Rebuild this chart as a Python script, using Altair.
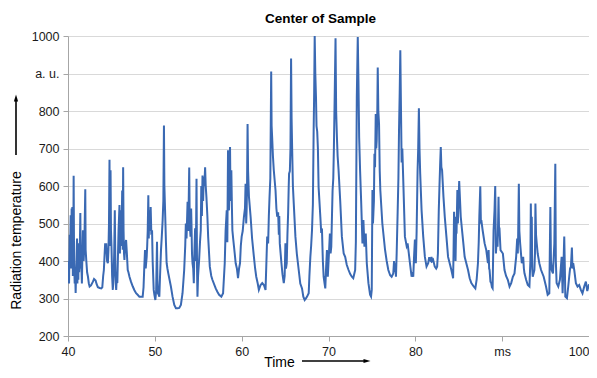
import altair as alt
import pandas as pd

# Time (ms) / radiation temperature (a.u.) readings, split by time span
seg_40_51 = [(40.00,367),(40.06,400),(40.12,340),(40.20,470),(40.25,430),(40.31,522),(40.36,380),(40.42,540),(40.46,400),(40.50,544),(40.56,360),(40.61,420),(40.65,627),(40.70,400),(40.77,340),(40.82,370),(40.88,315),(40.95,380),(41.04,460),(41.08,340),(41.15,430),(41.19,350),(41.23,447),(41.28,370),(41.34,400),(41.42,528),(41.47,380),(41.53,394),(41.60,340),(41.66,420),(41.72,482),(41.80,400),(41.88,440),(41.99,591),(42.03,430),(42.11,400),(42.20,370),(42.30,358),(42.40,340),(42.49,332),(42.65,335),(42.87,345),(43.00,352),(43.18,348),(43.30,338),(43.44,330),(43.65,328),(43.83,327),(43.95,330),(44.05,360),(44.13,376),(44.20,410),(44.28,447),(44.35,430),(44.40,447),(44.50,400),(44.59,394),(44.66,430),(44.72,500),(44.78,670),(44.82,440),(44.86,600),(44.90,642),(44.95,480),(45.01,438),(45.08,360),(45.16,323),(45.25,360),(45.32,420),(45.39,535),(45.45,400),(45.50,340),(45.55,323),(45.62,360),(45.68,341),(45.74,400),(45.82,480),(45.93,549),(45.98,420),(46.02,520),(46.08,535),(46.15,440),(46.24,588),(46.30,430),(46.35,650),(46.40,480),(46.45,420),(46.50,403),(46.58,440),(46.69,456),(46.78,420),(46.88,376),(46.96,370),(47.08,358),(47.25,345),(47.46,332),(47.65,322),(47.84,314),(48.02,310),(48.22,305),(48.40,305),(48.60,305),(48.70,330),(48.78,380),(48.87,429),(48.95,380),(49.06,411),(49.12,440),(49.18,480),(49.25,575),(49.30,460),(49.37,535),(49.45,480),(49.52,544),(49.60,470),(49.68,482),(49.75,400),(49.87,323),(49.95,310),(50.06,296),(50.15,320),(50.25,451),(50.30,350),(50.36,314),(50.45,310),(50.52,305),(50.60,360),(50.71,429),(50.80,465),(50.90,509),(50.98,560),(51.05,761),(51.10,600),(51.20,518),(51.28,450),(51.36,394),(51.45,380)]

seg_51_63 = [(51.55,367),(51.85,332),(52.04,305),(52.24,283),(52.43,274),(52.62,274),(52.81,275),(53.00,283),(53.19,314),(53.38,376),(53.50,440),(53.57,500),(53.65,460),(53.77,558),(53.85,480),(53.96,649),(54.02,500),(54.11,465),(54.18,540),(54.22,500),(54.28,420),(54.34,394),(54.42,380),(54.49,341),(54.55,420),(54.64,487),(54.72,400),(54.80,619),(54.86,380),(54.91,305),(54.98,360),(55.10,403),(55.20,450),(55.29,482),(55.35,600),(55.42,520),(55.49,628),(55.56,560),(55.64,624),(55.70,600),(55.79,650),(55.86,600),(55.94,571),(56.05,520),(56.14,465),(56.33,385),(56.50,360),(56.63,350),(57.01,327),(57.20,318),(57.40,310),(57.66,305),(57.86,314),(58.05,394),(58.15,480),(58.28,535),(58.35,450),(58.43,695),(58.48,560),(58.54,535),(58.60,600),(58.66,704),(58.72,560),(58.81,642),(58.88,540),(58.93,482),(59.02,460),(59.12,438),(59.20,420),(59.31,394),(59.45,380),(59.58,354),(59.70,380),(59.81,394),(59.90,440),(60.00,465),(60.12,480),(60.26,518),(60.38,540),(60.45,606),(60.52,500),(60.57,535),(60.62,600),(60.68,765),(60.74,640),(60.84,571),(61.03,518),(61.20,460),(61.41,411),(61.55,380),(61.68,358),(61.85,340),(61.98,323),(62.18,336),(62.37,341),(62.56,336),(62.75,323)]

seg_63_74 = [(62.94,465),(63.05,447),(63.13,520),(63.21,571),(63.30,620),(63.40,905),(63.45,760),(63.51,730),(63.60,680),(63.70,642),(63.90,588),(64.00,540),(64.09,518),(64.20,530),(64.28,470),(64.33,520),(64.39,447),(64.58,394),(64.70,365),(64.85,341),(64.95,360),(65.04,447),(65.10,380),(65.19,394),(65.27,470),(65.35,527),(65.42,600),(65.46,633),(65.55,640),(65.62,700),(65.69,940),(65.75,780),(65.81,704),(65.90,600),(66.00,553),(66.19,465),(66.35,420),(66.57,376),(66.75,340),(66.95,327),(67.10,305),(67.26,296),(67.40,300),(67.53,305),(67.72,314),(67.80,360),(67.91,411),(68.00,440),(68.10,482),(68.20,550),(68.29,748),(68.35,850),(68.41,1000),(68.48,900),(68.56,836),(68.62,760),(68.70,745),(68.78,700),(68.86,597),(69.06,518),(69.15,480),(69.25,482),(69.35,400),(69.44,358),(69.55,340),(69.63,327),(69.72,380),(69.82,429),(69.92,358),(70.01,400),(70.16,473),(70.24,420),(70.32,438),(70.40,520),(70.47,588),(70.55,620),(70.62,700),(70.70,820),(70.81,994),(70.88,800),(70.97,730),(71.05,680),(71.16,642),(71.35,560),(71.54,465),(71.75,420),(71.92,411),(72.10,390),(72.31,376),(72.50,365),(72.69,358),(72.85,354),(73.07,376),(73.15,450),(73.26,836),(73.37,997),(73.45,880),(73.53,730),(73.64,640),(73.76,560),(73.91,447),(74.02,509),(74.14,438),(74.29,473),(74.41,394)]

seg_74_85 = [(74.60,341),(74.79,310),(74.90,305),(74.98,323),(75.06,589),(75.12,500),(75.17,527),(75.23,560),(75.29,686),(75.36,650),(75.44,792),(75.50,700),(75.55,721),(75.62,800),(75.67,916),(75.74,800),(75.82,765),(75.90,640),(75.97,588),(76.20,500),(76.51,430),(76.70,400),(76.89,376),(77.10,362),(77.27,358),(77.46,367),(77.55,400),(77.60,370),(77.66,394),(77.72,380),(77.77,358),(77.85,420),(77.96,527),(78.05,620),(78.12,748),(78.20,850),(78.27,962),(78.35,800),(78.42,663),(78.50,700),(78.61,615),(78.80,465),(79.00,440),(79.11,447),(79.25,420),(79.38,394),(79.57,358),(79.68,365),(79.76,358),(79.85,410),(79.95,457),(80.00,420),(80.06,394),(80.15,480),(80.26,642),(80.33,700),(80.41,807),(80.48,700),(80.56,633),(80.72,535),(80.91,465),(81.10,411),(81.29,385),(81.48,394),(81.60,410),(81.67,403),(81.80,400),(81.86,411),(81.95,400),(82.05,403),(82.24,385),(82.40,380),(82.51,385),(82.60,420),(82.70,535),(82.78,600),(82.86,659),(82.93,704),(83.00,650),(83.08,642),(83.24,571),(83.39,518),(83.58,465),(83.77,411),(84.00,390),(84.15,376),(84.30,360),(84.35,354),(84.40,420),(84.46,531),(84.52,420),(84.58,518),(84.63,400),(84.69,482),(84.75,480),(84.84,589),(84.90,500),(85.05,613)]

seg_85_100 = [(85.23,518),(85.38,482),(85.53,447),(85.68,411),(85.87,394),(86.07,376),(86.26,354),(86.45,341),(86.72,332),(86.91,327),(87.06,350),(87.21,394),(87.30,450),(87.37,518),(87.48,599),(87.55,500),(87.60,509),(87.75,482),(87.98,447),(88.17,429),(88.36,394),(88.44,429),(88.50,380),(88.55,376),(88.65,345),(88.74,341),(88.82,330),(88.90,327),(89.01,482),(89.12,535),(89.20,600),(89.28,420),(89.35,447),(89.42,460),(89.47,438),(89.53,500),(89.58,571),(89.64,480),(89.70,482),(89.81,429),(90.08,420),(90.27,376),(90.45,360),(90.65,350),(90.85,332),(91.04,341),(91.23,358),(91.42,367),(91.61,411),(91.73,460),(91.80,420),(91.84,465),(91.92,606),(91.98,480),(92.07,447),(92.26,394),(92.42,411),(92.50,380),(92.57,367),(92.76,350),(92.95,336),(93.14,332),(93.25,400),(93.30,553),(93.36,420),(93.41,518),(93.46,380),(93.52,358),(93.65,370),(93.71,376),(93.78,420),(93.83,553),(93.90,470),(93.98,447),(94.09,420),(94.28,394),(94.48,376),(94.78,358),(95.05,332),(95.24,310),(95.43,314),(95.55,544),(95.62,400),(95.70,376),(95.85,367),(96.01,447),(96.12,659),(96.18,400),(96.27,341),(96.46,332),(96.65,350),(96.85,411),(96.96,314),(97.05,380),(97.15,465),(97.22,380),(97.27,305),(97.46,301),(97.60,330),(97.72,358),(97.82,380),(97.92,385),(98.03,436),(98.10,380),(98.18,394),(98.30,376),(98.49,341),(98.68,332),(98.87,336),(99.06,323),(99.25,314),(99.45,332),(99.64,345),(99.80,320),(100.00,338)]

x_ticks = [40, 50, 60, 70, 80, 90, 100]
y_ticks = [200, 300, 400, 500, 600, 700, 800, 900, 1000]

FONT = "Liberation Sans"
LINE_BLUE = "#3A69B3"
GRID = "#d9d9d9"
AXIS_GRAY = "#a6a6a6"

rows = seg_40_51 + seg_51_63 + seg_63_74 + seg_74_85 + seg_85_100
df = pd.DataFrame(rows, columns=["time", "value"])

line = alt.Chart(df).mark_line(color=LINE_BLUE, strokeWidth=2, clip=True).encode(
    x=alt.X("time:Q",
            scale=alt.Scale(domain=[40, 100], nice=False, zero=False),
            axis=alt.Axis(values=x_ticks, labelExpr="datum.value == 90 ? 'ms' : datum.label",
                          grid=False, domainColor=AXIS_GRAY, tickColor=AXIS_GRAY, tickSize=5,
                          labelFlush=False, labelOverlap=False,
                          labelAlign={"condition": {"test": "datum.value == 100", "value": "right"},
                                      "value": "center"},
                          labelFont=FONT, labelFontSize=12.5, labelColor="#1a1a1a", labelPadding=4,
                          title="Time", titleFont=FONT, titleFontSize=14, titleFontWeight="normal",
                          titleColor="#000000", titleX=211, titleY=30, titleBaseline="alphabetic",
                          titleAlign="center")),
    y=alt.Y("value:Q",
            scale=alt.Scale(domain=[200, 1000], nice=False, zero=False),
            axis=alt.Axis(values=y_ticks, format="d",
                          labelExpr="datum.value == 900 ? 'a. u.' : datum.label",
                          labelFlush=False, labelOverlap=False,
                          grid=True, gridColor=GRID, gridWidth=1,
                          domainColor=AXIS_GRAY, tickColor=AXIS_GRAY, tickSize=5,
                          labelFont=FONT, labelFontSize=12.5, labelColor="#1a1a1a", labelPadding=4,
                          title="Radiation temperature", titleFont=FONT, titleFontSize=14,
                          titleFontWeight="normal", titleColor="#000000",
                          titleX=-52, titleY=204, titleAngle=270, titleBaseline="middle",
                          titleAlign="center")),
)

one = pd.DataFrame({"k": [0]})
y_shaft = alt.Chart(one).mark_rule(color="black", strokeWidth=1.6).encode(
    x=alt.value(-52), y=alt.value(62), y2=alt.value(119))
y_head = alt.Chart(one).mark_point(shape="M0,-1L0.6,1L-0.6,1Z", filled=True, color="black",
                                    opacity=1, size=49, strokeWidth=0).encode(
    x=alt.value(-52), y=alt.value(62))
x_shaft = alt.Chart(one).mark_rule(color="black", strokeWidth=1.6).encode(
    x=alt.value(234), x2=alt.value(299), y=alt.value(325))
x_head = alt.Chart(one).mark_point(shape="M1,0L-1,-0.6L-1,0.6Z", filled=True, color="black",
                                    opacity=1, size=49, strokeWidth=0).encode(
    x=alt.value(299), y=alt.value(325))

chart = alt.layer(line, y_shaft, y_head, x_shaft, x_head).properties(
    width=521, height=300,
    title=alt.TitleParams("Center of Sample", font=FONT, fontSize=13.5, fontWeight="bold",
                          color="#000000", anchor="middle", offset=5, dx=-8),
    padding={"left": 60, "top": 28, "right": 0, "bottom": 34},
    autosize=alt.AutoSizeParams(type="none"),
).configure_view(strokeWidth=0)

chart.save("out.html", embed_options={"renderer": "svg", "actions": False})
